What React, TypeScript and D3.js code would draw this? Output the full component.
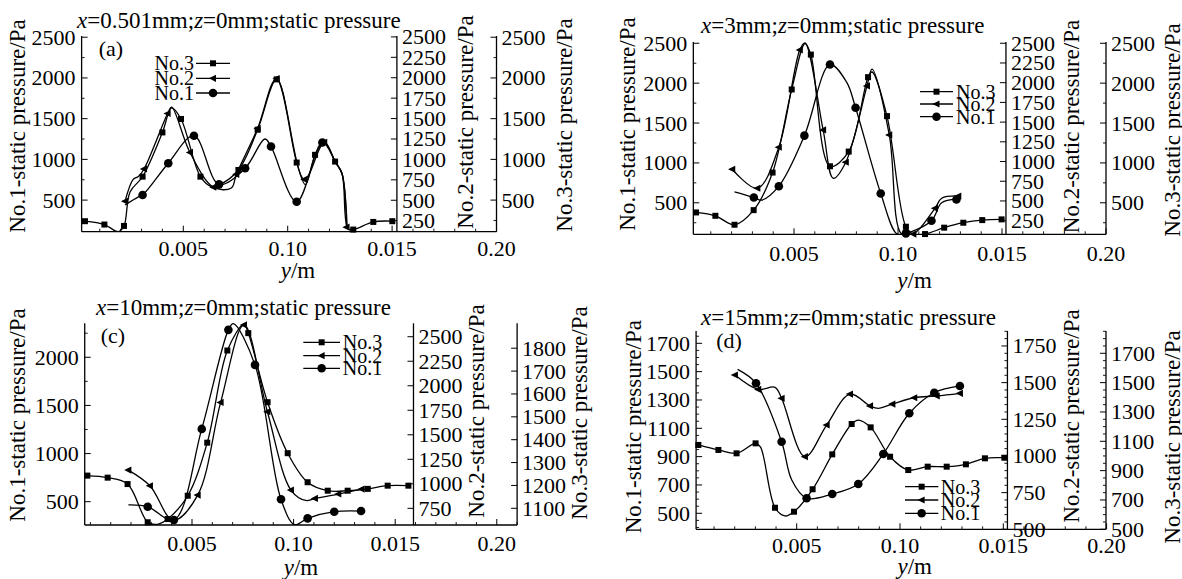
import React from 'react';
import * as d3 from 'd3';

type Pt = [number, number];

// x positions are in mm along y (the axis labels of the original are odd, kept as printed)
const xTickValues = [5, 10, 15, 20];
const xTickLabels = ['0.005', '0.10', '0.015', '0.20'];
const seriesNames = ['No.3', 'No.2', 'No.1'];
const axisTitles = ['No.1-static pressure/Pa', 'No.2-static pressure/Pa', 'No.3-static pressure/Pa'];
const panelTitles = [
  'x=0.501mm;z=0mm;static pressure',
  'x=3mm;z=0mm;static pressure',
  'x=10mm;z=0mm;static pressure',
  'x=15mm;z=0mm;static pressure',
];
const panelTags = ['(a)', '', '(c)', '(d)'];

// y tick labels
const ticks500 = [500, 1000, 1500, 2000, 2500];
const ticks250 = [250, 500, 750, 1000, 1250, 1500, 1750, 2000, 2250, 2500];
const cLeftTicks = [500, 1000, 1500, 2000];
const cMidTicks = [750, 1000, 1250, 1500, 1750, 2000, 2250, 2500];
const cRightTicks = [1100, 1200, 1300, 1400, 1500, 1600, 1700, 1800];
const dLeftTicks = [500, 700, 900, 1100, 1300, 1500, 1700];
const dMidTicks = [500, 750, 1000, 1250, 1500, 1750];
const dRightTicks = [500, 700, 900, 1100, 1300, 1500, 1700];

// (a) x = 0.501 mm
const a3Marks: Pt[] = [[0.29, 241], [1.22, 200], [2.16, 183], [3.05, 788], [4.0, 1331], [4.89, 1496], [5.82, 788], [6.71, 685], [7.64, 870], [8.56, 1364], [9.47, 1982], [10.43, 961], [11.31, 1056], [12.27, 973], [13.14, 138], [14.1, 232], [15.01, 241]];
const a3Extra: Pt[] = [[1.89, 112], [2.45, 600], [4.44, 1632], [6.36, 665], [10.85, 690], [11.75, 1215], [12.6, 830], [12.88, 150]];
const a2Marks: Pt[] = [[2.21, 488], [3.12, 883], [4.25, 1562], [5.32, 1085], [6.44, 660], [7.54, 817], [8.56, 1380], [9.47, 1990], [10.8, 755], [11.75, 1210], [12.82, 171]];
const a2Extra: Pt[] = [[2.6, 755], [2.85, 790], [4.44, 1640], [7.3, 650], [12.3, 960], [12.6, 830]];
const a1Marks: Pt[] = [[3.05, 562], [4.28, 953], [5.51, 1290], [6.71, 693], [7.96, 891], [9.2, 1159], [10.43, 479], [11.66, 1208]];
const a1Extra: Pt[] = [[2.21, 440], [2.85, 540], [8.91, 1250], [12.3, 960], [12.6, 820], [12.85, 150]];

// (b) x = 3 mm
const b3Marks: Pt[] = [[0.29, 379], [1.22, 337], [2.14, 225], [3.06, 408], [3.97, 879], [4.89, 1921], [5.81, 2358], [6.73, 958], [7.63, 1142], [8.56, 2075], [9.47, 1587], [10.38, 200], [11.3, 108], [12.22, 188], [13.14, 250], [14.05, 283], [14.98, 292]];
const b3Extra: Pt[] = [[5.53, 2495], [8.75, 2140], [10.75, 108]];
const b2Marks: Pt[] = [[2.03, 902], [3.24, 661], [4.27, 1181], [5.28, 2416], [6.4, 1401], [7.49, 991], [8.51, 1959], [9.58, 1338], [10.74, 80], [11.78, 407], [12.9, 563]];
const b2Extra: Pt[] = [[5.53, 2505], [6.89, 788], [8.75, 2171], [10.17, 80], [12.1, 534]];
const b1Marks: Pt[] = [[3.07, 567], [4.27, 708], [5.5, 1342], [6.73, 2233], [7.96, 1692], [9.17, 617], [10.38, 117], [11.61, 275], [12.81, 542]];
const b1Extra: Pt[] = [[2.14, 637], [3.44, 533], [7.53, 2012], [9.95, 110], [12.1, 500]];

// (c) x = 10 mm
const c3Marks: Pt[] = [[-0.15, 1243], [0.85, 1234], [1.83, 1206], [2.82, 1039], [3.8, 1053], [4.79, 1155], [5.75, 1387], [6.74, 1790], [7.77, 1866], [8.72, 1564], [9.71, 1341], [10.69, 1214], [11.68, 1177], [12.66, 1177], [13.65, 1185], [14.63, 1199], [15.65, 1199]];
const c3Extra: Pt[] = [[3.3, 1030], [7.56, 1905]];
const c2Marks: Pt[] = [[1.87, 1140], [2.93, 980], [4.08, 629], [5.28, 885], [6.41, 1830], [7.56, 2620], [8.71, 1735], [9.87, 936], [11.05, 851], [12.2, 896], [13.35, 946]];
const c2Extra: Pt[] = [[10.6, 830]];
const c1Marks: Pt[] = [[2.82, 448], [4.11, 310], [5.48, 1256], [6.79, 2285], [8.1, 1921], [9.38, 525], [10.69, 327], [12.0, 396], [13.32, 403]];
const c1Extra: Pt[] = [[1.87, 466], [7.03, 2350], [10.05, 262]];

// (d) x = 15 mm
const d3Marks: Pt[] = [[0.24, 1075], [1.21, 1041], [2.09, 1018], [3.01, 1086], [3.95, 647], [4.87, 620], [5.77, 773], [6.72, 1011], [7.66, 1218], [8.58, 1195], [9.52, 995], [10.4, 904], [11.34, 927], [12.26, 927], [13.19, 943], [14.11, 984], [15.05, 988]];
const d3Extra: Pt[] = [[3.25, 1060], [4.43, 591], [7.98, 1245]];
const d2Marks: Pt[] = [[2.01, 1552], [3.14, 1454], [4.27, 1393], [5.4, 995], [6.45, 1211], [7.58, 1422], [8.55, 1341], [9.63, 1354], [10.69, 1397], [11.78, 1409], [12.9, 1427]];
const d2Extra: Pt[] = [[3.95, 1468], [8.95, 1325]];
const d1Marks: Pt[] = [[3.03, 1418], [4.27, 1005], [5.48, 606], [6.72, 636], [7.98, 707], [9.19, 919], [10.45, 1206], [11.66, 1351], [12.9, 1399]];
const d1Extra: Pt[] = [[2.14, 1516], [4.76, 735]];

const FONT = "'Liberation Serif', 'DejaVu Serif', serif";

interface AxisCfg { domain: [number, number]; ticks: number[]; minor: number }
interface PanelCfg {
  title: string;
  tag: string;
  xRange: [number, number];
  axisAt: [number, number, number];
  top: number;
  bottom: number;
  axes: AxisCfg[];
  series: { marks: Pt[]; extra: Pt[] }[];
  titlePos: [number, number];
  tagPos: [number, number];
  legend: { side: 'left' | 'right'; x0: number; x1: number; textX: number; rows: number[] };
  axisTitleX: number[];
  axisTitleY: number[];
  xLabelPos: [number, number];
  tickLabelY: number;
}

const panels: PanelCfg[] = [
  {
    title: panelTitles[0], tag: panelTags[0],
    xRange: [78.9, 496.5], axisAt: [0.13, 15.23, 20], top: 36, bottom: 231.7,
    axes: [
      { domain: [112, 2515], ticks: ticks500, minor: 250 },
      { domain: [115, 2511], ticks: ticks250, minor: 0 },
      { domain: [112, 2515], ticks: ticks500, minor: 250 },
    ],
    series: [{ marks: a3Marks, extra: a3Extra }, { marks: a2Marks, extra: a2Extra }, { marks: a1Marks, extra: a1Extra }],
    titlePos: [77, 20], tagPos: [111, 48],
    legend: { side: 'left', x0: 196, x1: 230, textX: 194, rows: [63.3, 78.3, 93] },
    axisTitleX: [17, 465, 564.5], axisTitleY: [126, 122, 125],
    xLabelPos: [298, 270], tickLabelY: 248.3,
  },
  {
    title: panelTitles[1], tag: panelTags[1],
    xRange: [690, 1106], axisAt: [0.16, 15.19, 20], top: 42, bottom: 234.3,
    axes: [
      { domain: [105, 2516], ticks: ticks500, minor: 250 },
      { domain: [77, 2516], ticks: ticks250, minor: 0 },
      { domain: [105, 2516], ticks: ticks500, minor: 250 },
    ],
    series: [{ marks: b3Marks, extra: b3Extra }, { marks: b2Marks, extra: b2Extra }, { marks: b1Marks, extra: b1Extra }],
    titlePos: [701, 25], tagPos: [0, 0],
    legend: { side: 'right', x0: 920, x1: 953, textX: 956, rows: [91.7, 104, 116.7] },
    axisTitleX: [627.7, 1071.7, 1172], axisTitleY: [124, 126.5, 130],
    xLabelPos: [914.6, 280], tickLabelY: 253,
  },
  {
    title: panelTitles[2], tag: panelTags[2],
    xRange: [90.4, 496.8], axisAt: [-0.28, 15.9, 21], top: 323.3, bottom: 525,
    axes: [
      { domain: [258, 2353], ticks: cLeftTicks, minor: 250 },
      { domain: [580, 2637], ticks: cMidTicks, minor: 0 },
      { domain: [1027, 1909], ticks: cRightTicks, minor: 0 },
    ],
    series: [{ marks: c3Marks, extra: c3Extra }, { marks: c2Marks, extra: c2Extra }, { marks: c1Marks, extra: c1Extra }],
    titlePos: [96, 306.7], tagPos: [113, 335],
    legend: { side: 'right', x0: 303.3, x1: 340, textX: 342.7, rows: [342.3, 355.7, 368.3] },
    axisTitleX: [17, 476, 579.6], axisTitleY: [415, 411, 413],
    xLabelPos: [301, 567], tickLabelY: 543.3,
  },
  {
    title: panelTitles[3], tag: panelTags[3],
    xRange: [693.4, 1106.6], axisAt: [0.13, 15.2, 19.97], top: 331, bottom: 529.3,
    axes: [
      { domain: [387, 1787], ticks: dLeftTicks, minor: 50 },
      { domain: [500, 1852], ticks: dMidTicks, minor: 50 },
      { domain: [500, 1852], ticks: dRightTicks, minor: 50 },
    ],
    series: [{ marks: d3Marks, extra: d3Extra }, { marks: d2Marks, extra: d2Extra }, { marks: d1Marks, extra: d1Extra }],
    titlePos: [701, 317], tagPos: [729, 340],
    legend: { side: 'right', x0: 905, x1: 938.3, textX: 940.7, rows: [486.7, 500, 513.3] },
    axisTitleX: [633.3, 1071.7, 1172], axisTitleY: [426.7, 416, 437],
    xLabelPos: [914.7, 566], tickLabelY: 545,
  },
];

// series order in each panel: No.3 (square), No.2 (triangle), No.1 (circle); axis index for each
const seriesAxis = [2, 1, 0];

function Marker({ kind, x, y }: { kind: number; x: number; y: number }) {
  if (kind === 0) return <rect x={x - 3} y={y - 3} width={6} height={6} fill="#000" />;
  if (kind === 1) return <path d={`M${x - 4.2},${y}L${x + 3},${y - 3.6}L${x + 3},${y + 3.6}Z`} fill="#000" />;
  return <circle cx={x} cy={y} r={4.3} fill="#000" />;
}

function Title({ text, x, y }: { text: string; x: number; y: number }) {
  const parts = text.split(/([xz])(?==)/);
  return (
    <text x={x} y={y} fontSize={23} dominantBaseline="central">
      {parts.map((s, i) => (i % 2 === 1 ? <tspan key={i} fontStyle="italic">{s}</tspan> : <tspan key={i}>{s}</tspan>))}
    </text>
  );
}

function Panel({ p, idx }: { p: PanelCfg; idx: number }) {
  const x = d3.scaleLinear().domain([0, 20]).range(p.xRange);
  const ys = p.axes.map(a => d3.scaleLinear().domain(a.domain).range([p.bottom, p.top]));
  const axX = p.axisAt.map(v => x(v));
  const line = d3.line<Pt>().curve(d3.curveCatmullRom.alpha(0.5));
  const clipId = `clip-${idx}`;

  const minorX = d3.range(Math.ceil(p.axisAt[0]), p.axisAt[2] + 0.001, 1).filter(v => !xTickValues.includes(v));

  return (
    <g>
      <defs>
        <clipPath id={clipId}>
          <rect x={axX[0]} y={p.top - 2} width={axX[2] - axX[0]} height={p.bottom - p.top + 2} />
        </clipPath>
      </defs>
      <Title text={p.title} x={p.titlePos[0]} y={p.titlePos[1]} />
      {p.tag && (
        <text x={p.tagPos[0]} y={p.tagPos[1]} fontSize={22} textAnchor="middle" dominantBaseline="central">{p.tag}</text>
      )}

      {/* bottom axis */}
      <line x1={axX[0]} x2={axX[2]} y1={p.bottom} y2={p.bottom} stroke="#000" strokeWidth={1.3} />
      {minorX.map(v => (
        <line key={`mx${v}`} x1={x(v)} x2={x(v)} y1={p.bottom} y2={p.bottom - 3} stroke="#000" strokeWidth={0.9} />
      ))}
      {xTickValues.map((v, i) => (
        <g key={`xt${v}`}>
          <line x1={x(v)} x2={x(v)} y1={p.bottom} y2={p.bottom - 6} stroke="#000" strokeWidth={1} />
          <text x={x(v)} y={p.tickLabelY} fontSize={22} textAnchor="middle" dominantBaseline="central">{xTickLabels[i]}</text>
        </g>
      ))}
      <text x={p.xLabelPos[0]} y={p.xLabelPos[1]} fontSize={23} textAnchor="middle" dominantBaseline="central">
        <tspan fontStyle="italic">y</tspan>/m
      </text>

      {/* three y axes */}
      {p.axes.map((a, k) => {
        const ax = axX[k];
        const dir = k === 0 ? 1 : -1;
        const y = ys[k];
        const minors = a.minor > 0
          ? d3.range(Math.ceil(a.domain[0] / a.minor) * a.minor, a.domain[1], a.minor).filter(v => !a.ticks.includes(v))
          : [];
        return (
          <g key={`ax${k}`}>
            <line x1={ax} x2={ax} y1={p.top} y2={p.bottom} stroke="#000" strokeWidth={1.3} />
            {minors.map(v => (
              <line key={`m${v}`} x1={ax} x2={ax + dir * 3} y1={y(v)} y2={y(v)} stroke="#000" strokeWidth={0.9} />
            ))}
            {a.ticks.map(v => (
              <g key={`t${v}`}>
                <line x1={ax} x2={ax + dir * 6} y1={y(v)} y2={y(v)} stroke="#000" strokeWidth={1} />
                <text
                  x={k === 0 ? ax - 6 : ax + 5}
                  y={y(v)}
                  fontSize={22}
                  textAnchor={k === 0 ? 'end' : 'start'}
                  dominantBaseline="central"
                >{v}</text>
              </g>
            ))}
            <text
              transform={`translate(${p.axisTitleX[k]},${p.axisTitleY[k]}) rotate(-90)`}
              fontSize={23}
              textAnchor="middle"
              dominantBaseline="central"
            >{axisTitles[k]}</text>
          </g>
        );
      })}

      {/* series */}
      {p.series.map((s, si) => {
        const y = ys[seriesAxis[si]];
        const pts = [...s.marks, ...s.extra].sort((u, v) => u[0] - v[0]);
        const d = line(pts.map(q => [x(q[0]), y(q[1])] as Pt)) || '';
        return (
          <g key={`s${si}`}>
            <path d={d} fill="none" stroke="#000" strokeWidth={1.3} clipPath={`url(#${clipId})`} />
            {s.marks.map((q, i) => (
              <Marker key={i} kind={si} x={x(q[0])} y={Math.min(y(q[1]), p.bottom)} />
            ))}
          </g>
        );
      })}

      {/* legend */}
      {seriesNames.map((name, i) => {
        const ry = p.legend.rows[i];
        return (
          <g key={`lg${i}`}>
            <line x1={p.legend.x0} x2={p.legend.x1} y1={ry} y2={ry} stroke="#000" strokeWidth={1.3} />
            <Marker kind={i} x={(p.legend.x0 + p.legend.x1) / 2} y={ry} />
            <text
              x={p.legend.textX}
              y={ry}
              fontSize={20}
              textAnchor={p.legend.side === 'left' ? 'end' : 'start'}
              dominantBaseline="central"
            >{name}</text>
          </g>
        );
      })}
    </g>
  );
}

export default function App() {
  return (
    <div style={{ position: 'absolute', left: 0, top: 0 }}>
      <svg width={1182} height={579} viewBox="0 0 1182 579" style={{ display: 'block', background: '#fff', fontFamily: FONT }} fill="#000">
        <rect width={1182} height={579} fill="#fff" />
        {panels.map((p, i) => <Panel key={i} p={p} idx={i} />)}
      </svg>
    </div>
  );
}
